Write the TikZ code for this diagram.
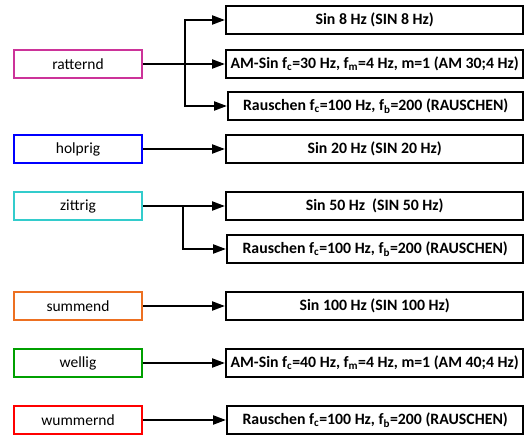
\documentclass[tikz,border=0pt]{standalone}
\usepackage{fontspec}
\setmainfont{Carlito}
\usetikzlibrary{arrows.meta}

\definecolor{rattcol}{RGB}{204,51,153}
\definecolor{holpcol}{RGB}{0,0,255}
\definecolor{zittcol}{RGB}{51,204,204}
\definecolor{summcol}{RGB}{237,112,33}
\definecolor{wellcol}{RGB}{0,160,0}
\definecolor{wummcol}{RGB}{255,0,0}

\tikzset{
  feel/.style={draw=#1,line width=2.2pt,minimum width=128pt,minimum height=28pt,
    inner sep=0pt,font=\fontsize{15.5}{17}\selectfont},
  signal/.style={draw,line width=2.4pt,minimum width=297pt,minimum height=28pt,
    inner sep=0pt,anchor=west,font=\fontsize{15.8}{17}\selectfont\bfseries},
  pfeil/.style={-{Triangle[length=13pt,width=9pt]},line width=2.2pt}
}

\begin{document}
\begin{tikzpicture}[x=1pt,y=-1pt]
\useasboundingbox (0,0) rectangle (528,436);

% Empfindungen
\node[feel=rattcol] (ratternd) at (78,64) {ratternd};
\node[feel=holpcol] (holprig) at (78,149) {holprig};
\node[feel=zittcol] (zittrig) at (78,206) {zittrig};
\node[feel=summcol] (summend) at (78,306) {summend};
\node[feel=wellcol] (wellig) at (78,363) {wellig};
\node[feel=wummcol] (wummernd) at (78,420) {wummernd};

% Signale
\node[signal] (sin8) at (225,20) {Sin 8 Hz (SIN 8 Hz)};
\node[signal] (am30) at (225,64) {AM-Sin f\textsubscript{c}=30 Hz, f\textsubscript{m}=4 Hz, m=1 (AM 30;4 Hz)};
\node[signal,minimum width=295pt] (rausch1) at (227,106) {Rauschen f\textsubscript{c}=100 Hz, f\textsubscript{b}=200 (RAUSCHEN)};
\node[signal] (sin20) at (225,149) {Sin 20 Hz (SIN 20 Hz)};
\node[signal] (sin50) at (225,206) {Sin 50 Hz\ \ (SIN 50 Hz)};
\node[signal,minimum width=296pt] (rausch2) at (226,249) {Rauschen f\textsubscript{c}=100 Hz, f\textsubscript{b}=200 (RAUSCHEN)};
\node[signal] (sin100) at (225,306) {Sin 100 Hz (SIN 100 Hz)};
\node[signal] (am40) at (225,363) {AM-Sin f\textsubscript{c}=40 Hz, f\textsubscript{m}=4 Hz, m=1 (AM 40;4 Hz)};
\node[signal,minimum width=296pt] (rausch3) at (226,420) {Rauschen f\textsubscript{c}=100 Hz, f\textsubscript{b}=200 (RAUSCHEN)};

% Verbindungen
\coordinate (rattsplit) at (185,64);
\draw[line width=2.2pt] (ratternd.east) -- (rattsplit);
\draw[pfeil] (rattsplit) |- (sin8.west);
\draw[pfeil] (rattsplit) -- (am30.west);
\draw[pfeil] (rattsplit) |- (rausch1.west);

\draw[pfeil] (holprig) -- (sin20);

\coordinate (zittsplit) at (183,206);
\draw[pfeil] (zittrig.east) -- (sin50.west);
\draw[pfeil] (zittsplit) |- (rausch2.west);

\draw[pfeil] (summend) -- (sin100);
\draw[pfeil] (wellig) -- (am40);
\draw[pfeil] (wummernd) -- (rausch3);
\end{tikzpicture}
\end{document}
